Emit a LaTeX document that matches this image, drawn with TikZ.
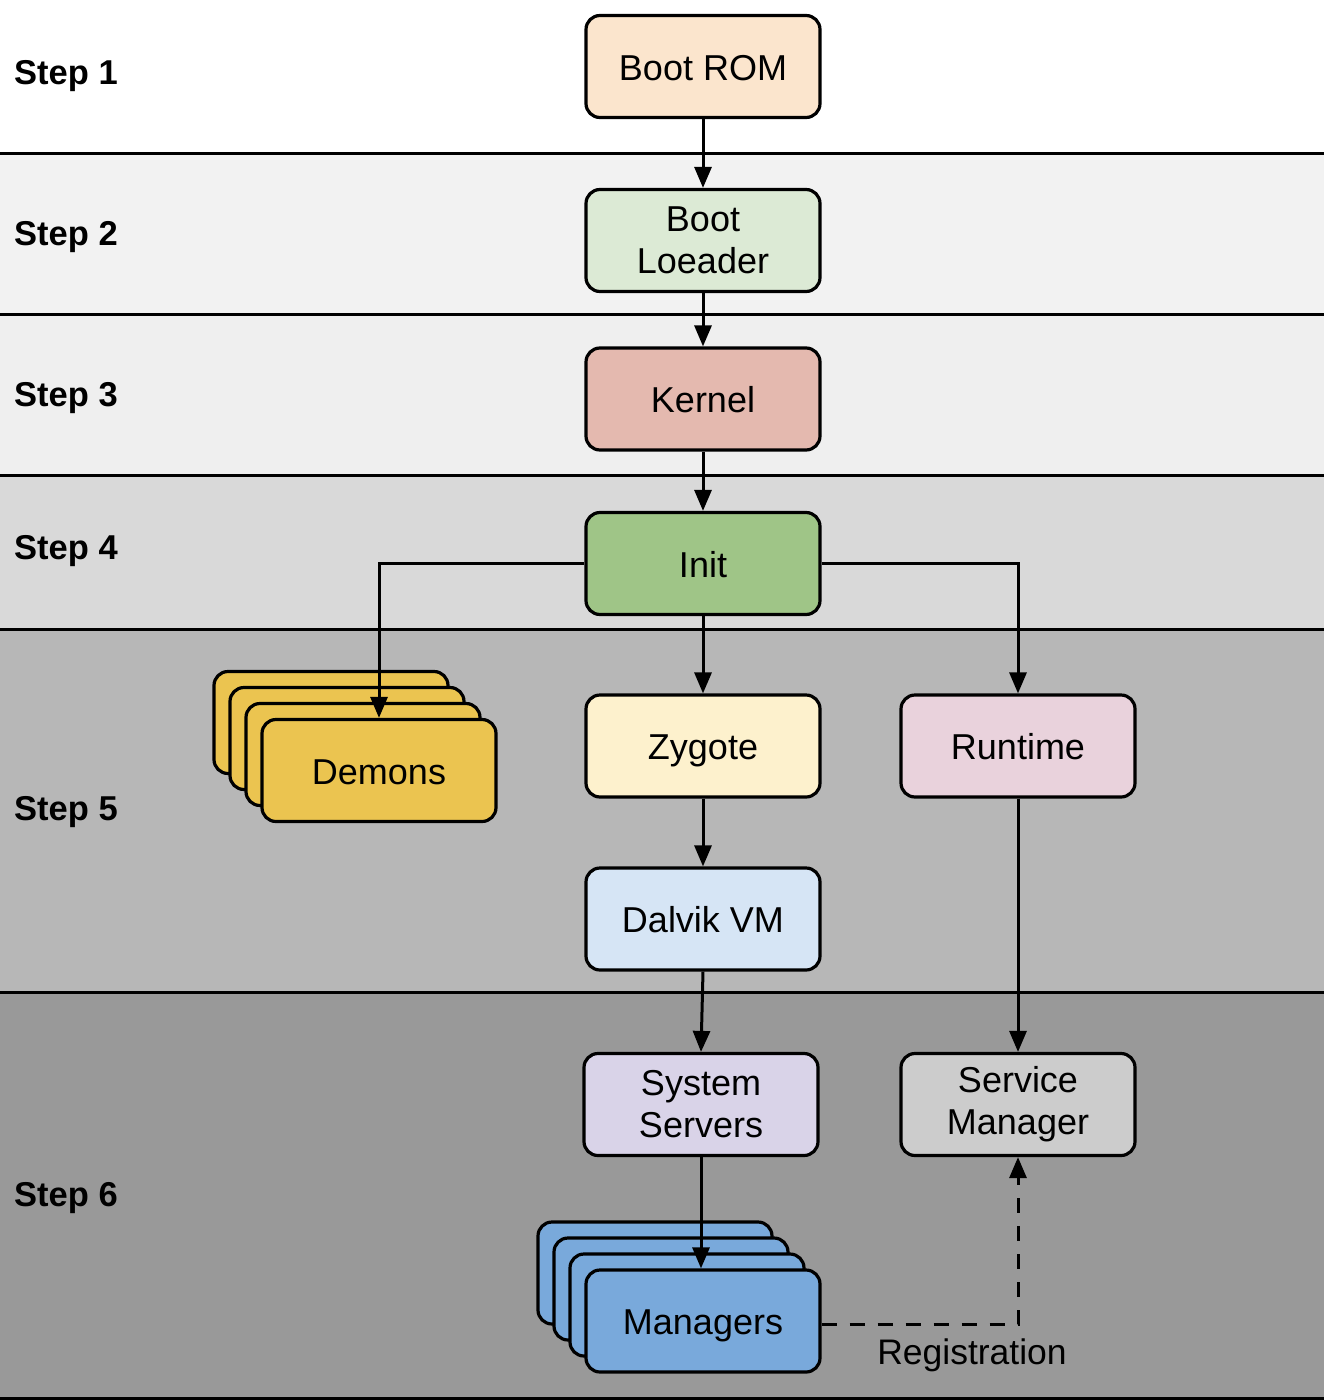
\documentclass[tikz,border=0pt]{standalone}
\usepackage{fontspec}
\setmainfont{Liberation Sans}
\usetikzlibrary{arrows.meta}
\definecolor{bandA}{HTML}{FFFFFF}
\definecolor{bandB}{HTML}{F2F2F2}
\definecolor{bandC}{HTML}{EFEFEF}
\definecolor{bandD}{HTML}{D9D9D9}
\definecolor{bandE}{HTML}{B7B7B7}
\definecolor{bandF}{HTML}{999999}
\definecolor{romc}{HTML}{FBE5CD}
\definecolor{blc}{HTML}{DCEAD5}
\definecolor{kerc}{HTML}{E4B9AF}
\definecolor{initc}{HTML}{9FC587}
\definecolor{zygc}{HTML}{FDF1CD}
\definecolor{rtc}{HTML}{E9D2DC}
\definecolor{dvmc}{HTML}{D6E5F5}
\definecolor{ssc}{HTML}{D9D3E8}
\definecolor{smc}{HTML}{CCCCCC}
\definecolor{demc}{HTML}{EBC450}
\definecolor{mgc}{HTML}{79A9DB}
\tikzset{
  box/.style={draw=black, line width=3.2pt, rounded corners=14pt,
    minimum width=234pt, minimum height=102pt, inner sep=0pt,
    align=center, font=\fontsize{36}{42}\selectfont},
  oneline/.style={box, text height=27pt, text depth=0pt},
  steplabel/.style={anchor=west, inner sep=0pt, font=\fontsize{34.5}{40}\selectfont\bfseries},
  bandline/.style={line width=3pt},
  conn/.style={line width=3pt, -{Triangle[length=21pt,width=17pt]}},
  regconn/.style={conn, dash pattern=on 15pt off 13pt},
  plain/.style={inner sep=0pt, font=\fontsize{35.5}{40}\selectfont}
}
\begin{document}
\begin{tikzpicture}[x=1pt,y=-1pt]
\useasboundingbox (0,0) rectangle (1324,1400);
% bands
\fill[bandA] (0,0) rectangle (1324,153);
\fill[bandB] (0,153) rectangle (1324,314);
\fill[bandC] (0,314) rectangle (1324,475);
\fill[bandD] (0,475) rectangle (1324,629);
\fill[bandE] (0,629) rectangle (1324,992);
\fill[bandF] (0,992) rectangle (1324,1400);
\foreach \yy in {153,314,475,629,992,1398}
  \draw[bandline] (0,\yy) -- (1324,\yy);
% step labels
\node[steplabel] (s1) at (14,76) {Step 1};
\node[steplabel] (s2) at (14,237) {Step 2};
\node[steplabel] (s3) at (14,398) {Step 3};
\node[steplabel] (s4) at (14,551) {Step 4};
\node[steplabel] (s5) at (14,812) {Step 5};
\node[steplabel] (s6) at (14,1198) {Step 6};
% main nodes
\node[oneline, fill=romc] (rom) at (703,66.5) {Boot ROM};
\node[box, fill=blc] (bl) at (703,240.5) {Boot\\Loeader};
\node[oneline, fill=kerc] (ker) at (703,399) {Kernel};
\node[oneline, fill=initc] (init) at (703,563.5) {Init};
\node[oneline, fill=zygc] (zyg) at (703,746) {Zygote};
\node[oneline, fill=rtc] (rt) at (1018,746) {Runtime};
\node[oneline, fill=dvmc] (dvm) at (703,919) {Dalvik VM};
\node[box, fill=ssc] (ss) at (701,1104.5) {System\\Servers};
\node[box, fill=smc] (sm) at (1018,1104.5) {Service\\Manager};
% demons stack
\node[box, fill=demc] (dem3) at (331,722.5) {};
\node[box, fill=demc] (dem2) at (347,738.5) {};
\node[box, fill=demc] (dem1) at (363,754.5) {};
\node[oneline, fill=demc] (dem0) at (379,770.5) {Demons};
% managers stack
\node[box, fill=mgc] (mg3) at (655,1273) {};
\node[box, fill=mgc] (mg2) at (671,1289) {};
\node[box, fill=mgc] (mg1) at (687,1305) {};
\node[oneline, fill=mgc] (mg0) at (703,1321) {Managers};
% connectors
\draw[conn] (rom) -- (bl);
\draw[conn] (bl) -- (ker);
\draw[conn] (ker) -- (init);
\draw[conn] (init.west) -| (dem0.north);
\draw[conn] (init.east) -| (rt.north);
\draw[conn] (init) -- (zyg);
\draw[conn] (zyg) -- (dvm);
\draw[conn] (dvm.south) -- (ss.north);
\draw[conn] (rt) -- (sm);
\draw[conn] (ss.south) -- (ss.south |- mg0.north);
\coordinate (regstart) at ([yshift=-3.5pt]mg0.east);
\draw[regconn] (regstart) -| (sm.south);
\node[plain] (reg) at (972,1355) {Registration};
\end{tikzpicture}
\end{document}
